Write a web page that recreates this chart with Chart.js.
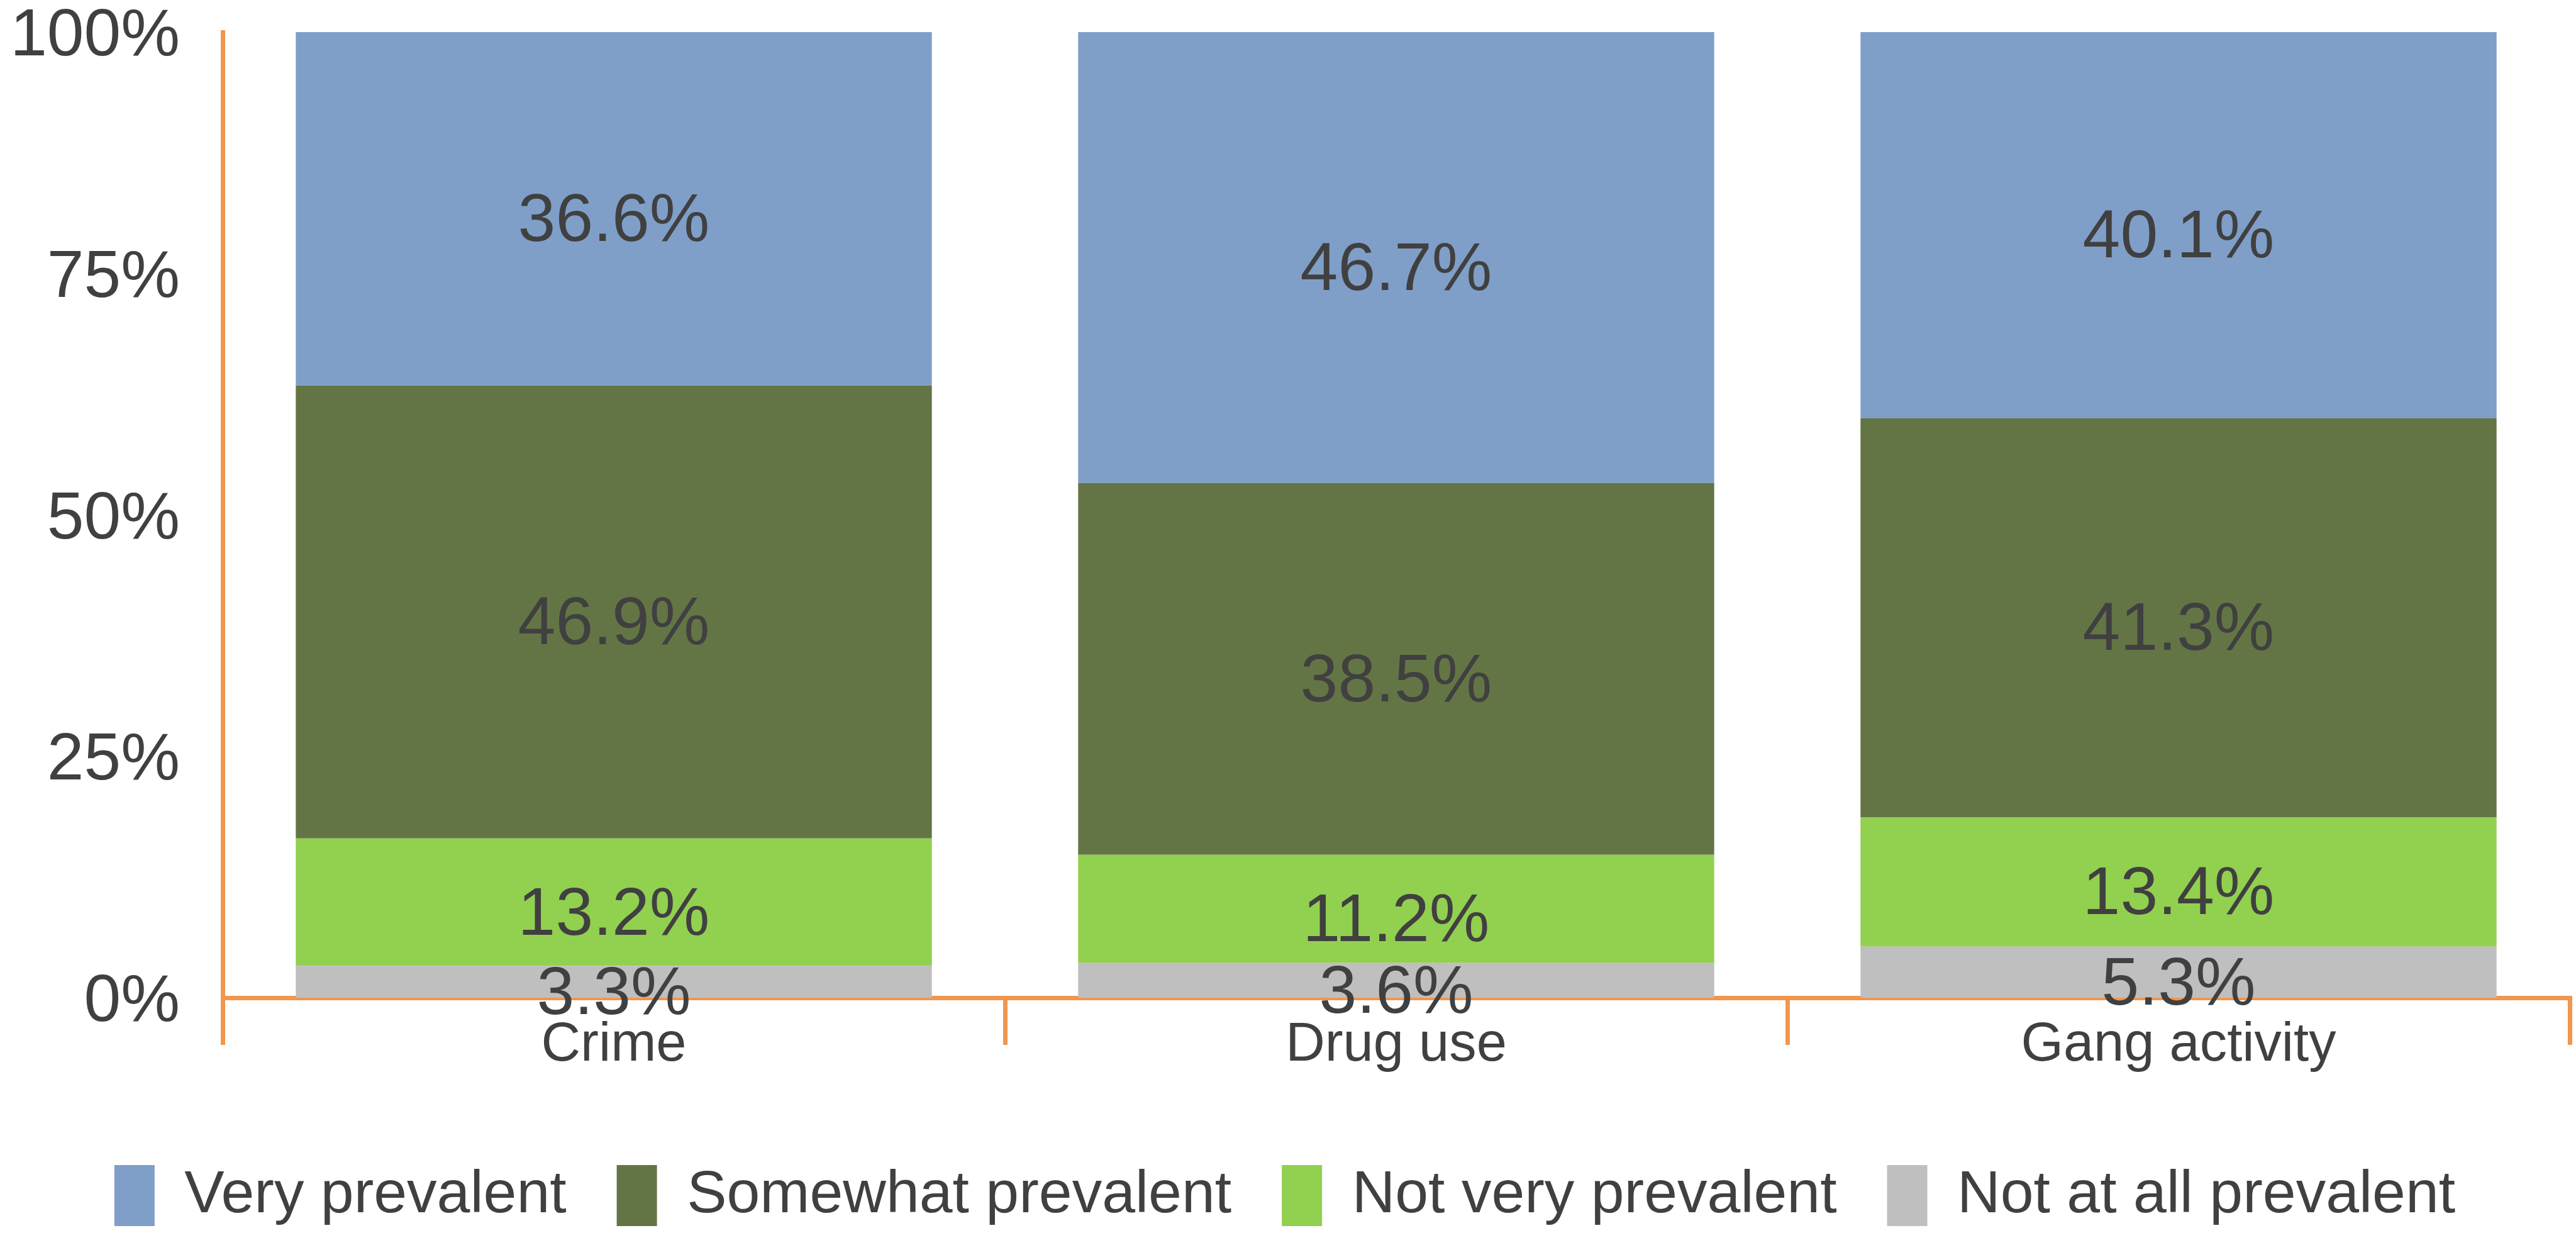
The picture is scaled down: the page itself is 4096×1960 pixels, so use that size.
<!DOCTYPE html>
<html>
<head>
<meta charset="utf-8">
<title>Prevalence</title>
<script src="https://cdn.jsdelivr.net/npm/chart.js@4.4.1/dist/chart.umd.min.js"></script>
<style>
  html, body { margin: 0; padding: 0; background: #ffffff; }
  #wrap { width: 4096px; height: 1960px; }
</style>
</head>
<body>
<div id="wrap"><canvas id="prevalenceChart" width="4096" height="1960"></canvas></div>
<script>
// categories and series (percent of respondents)
const categories = ['Crime', 'Drug use', 'Gang activity'];
const veryPrevalent = [36.6, 46.7, 40.1];
const somewhatPrevalent = [46.9, 38.5, 41.3];
const notVeryPrevalent = [13.2, 11.2, 13.4];
const notAtAllPrevalent = [3.3, 3.6, 5.3];
const yTicks = [0, 25, 50, 75, 100];

const FONT = '"Liberation Sans", Arial, sans-serif';
const TEXT = '#404040';
const AXIS = '#F0964E';
const LABEL_SIZE = 107.5;

// value labels centred in each stacked segment
const segmentLabels = {
    id: 'segmentLabels',
    afterDraw(chart) {
        const ctx = chart.ctx;
        ctx.save();
        ctx.font = `${LABEL_SIZE}px ${FONT}`;
        ctx.fillStyle = TEXT;
        ctx.textAlign = 'center';
        ctx.textBaseline = 'alphabetic';
        chart.data.datasets.forEach((ds, i) => {
            chart.getDatasetMeta(i).data.forEach((bar, j) => {
                const mid = (bar.y + bar.base) / 2;
                ctx.fillText(ds.data[j].toFixed(1) + '%', bar.x, mid + 13 + LABEL_SIZE * 0.358);
            });
        });
        ctx.restore();
    }
};

Chart.defaults.font.family = FONT;
Chart.defaults.color = TEXT;

const bar = (label, data, color) => ({
    label,
    data,
    backgroundColor: color,
    borderWidth: 0,
    categoryPercentage: 1,
    barPercentage: 1 / 1.23
});

new Chart(document.getElementById('prevalenceChart'), {
    type: 'bar',
    data: {
        labels: categories,
        datasets: [
            bar('Not at all prevalent', notAtAllPrevalent, '#BFBFBF'),
            bar('Not very prevalent', notVeryPrevalent, '#92D050'),
            bar('Somewhat prevalent', somewhatPrevalent, '#647545'),
            bar('Very prevalent', veryPrevalent, '#7F9FC9')
        ]
    },
    options: {
        responsive: false,
        animation: false,
        devicePixelRatio: 1,
        layout: { padding: { left: 0, right: 10, top: 51, bottom: 1 } },
        plugins: {
            tooltip: { enabled: false },
            legend: {
                position: 'bottom',
                reverse: true,
                labels: {
                    boxWidth: 64,
                    boxHeight: 97,
                    padding: 80,
                    color: TEXT,
                    font: { size: 95 }
                }
            }
        },
        scales: {
            x: {
                stacked: true,
                z: 1,
                grid: {
                    offset: true,
                    drawOnChartArea: false,
                    drawTicks: true,
                    tickLength: 75,
                    color: AXIS,
                    lineWidth: 7
                },
                border: { color: AXIS, width: 7 },
                ticks: {
                    color: TEXT,
                    padding: -42,
                    font: { size: 86.7, lineHeight: 1 }
                },
                afterFit(scale) {
                    scale.height = 186;
                    scale.paddingLeft = 0;
                    scale.paddingRight = 0;
                }
            },
            y: {
                stacked: true,
                min: 0,
                max: 100,
                grid: { display: false, drawTicks: false },
                border: { color: AXIS, width: 7 },
                afterBuildTicks(scale) {
                    scale.ticks = yTicks.map(v => ({ value: v }));
                },
                ticks: {
                    color: TEXT,
                    padding: 68,
                    labelOffset: 8,
                    font: { size: 105.5 },
                    callback: v => v + '%'
                },
                afterFit(scale) {
                    scale.width = 354;
                    scale.paddingTop = 0;
                    scale.paddingBottom = 0;
                }
            }
        }
    },
    plugins: [segmentLabels]
});
</script>
</body>
</html>
